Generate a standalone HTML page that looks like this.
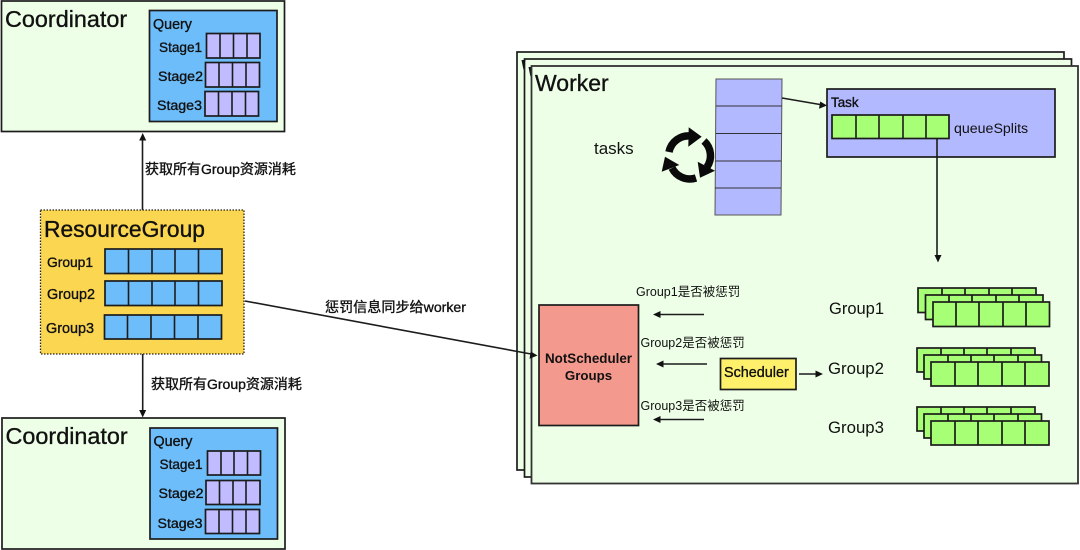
<!DOCTYPE html>
<html><head><meta charset="utf-8"><style>
html,body{margin:0;padding:0;background:#fff;width:1080px;height:550px;overflow:hidden}
svg{display:block;filter:blur(.3px)}
text{font-family:"Liberation Sans","Noto Sans CJK SC",sans-serif;fill:#111}
.b{stroke:#1c1c1c;stroke-width:1.7}
.l{stroke:#1c1c1c;stroke-width:1.6;fill:none}
.m{stroke:#111;stroke-width:.35}
</style></head><body>
<svg width="1080" height="550" viewBox="0 0 1080 550" xmlns="http://www.w3.org/2000/svg">
<!-- top coordinator -->
<rect x="1.5" y="1" width="283" height="130.5" fill="#eeffe8" class="b"/>
<rect x="149.5" y="10.5" width="127.5" height="111" fill="#6dbdfa" class="b"/>
<rect x="206.5" y="33.5" width="53.5" height="24.5" fill="#c0bcff" class="b"/>
<path d="M220 33.5V58M233.5 33.5V58M247 33.5V58" class="l"/>
<rect x="205.5" y="62.5" width="54" height="24.5" fill="#c0bcff" class="b"/>
<path d="M219 62.5V87M232.5 62.5V87M246 62.5V87" class="l"/>
<rect x="205" y="91.5" width="53.5" height="24.5" fill="#c0bcff" class="b"/>
<path d="M218.5 91.5V116M232 91.5V116M245.5 91.5V116" class="l"/>
<text x="5" y="27" font-size="23.4" class="m">Coordinator</text>
<text x="153" y="29" font-size="14.3" class="m">Query</text>
<text x="159" y="52" font-size="13.6" class="m">Stage1</text>
<text x="158" y="81" font-size="14.2" class="m">Stage2</text>
<text x="157" y="110" font-size="14.2" class="m">Stage3</text>
<!-- arrows up/down -->
<path d="M142.5 210V138" class="l"/><path d="M142.7 133l-3.500 7.500h7z" fill="#111"/>
<text x="145" y="174" font-size="14" class="m">获取所有Group资源消耗</text>
<path d="M142.7 354V412" class="l"/><path d="M142.7 417.500l-3.500-7.500h7z" fill="#111"/>
<text x="151" y="389" font-size="14" class="m">获取所有Group资源消耗</text>
<!-- resource group -->
<rect x="40.5" y="210" width="203.500" height="144" fill="#fbd651" stroke="#222" stroke-width="1.300" stroke-dasharray="1.500 1.500"/>
<text x="44" y="237" font-size="22.800" class="m">ResourceGroup</text>
<text x="47" y="267" font-size="13.800" class="m">Group1</text>
<text x="47" y="299" font-size="14.400" class="m">Group2</text>
<text x="46" y="333" font-size="14.400" class="m">Group3</text>
<rect x="105" y="249" width="117" height="24.500" fill="#6dbdfa" class="b"/>
<path d="M128.500 249V273.500M152 249V273.500M175 249V273.500M198.500 249V273.500" class="l"/>
<rect x="105" y="281" width="117" height="24.500" fill="#6dbdfa" class="b"/>
<path d="M128.500 281V305.500M152 281V305.500M175 281V305.500M198.500 281V305.500" class="l"/>
<rect x="104.500" y="315" width="117" height="24" fill="#6dbdfa" class="b"/>
<path d="M127.500 315V339M151 315V339M174.500 315V339M198 315V339" class="l"/>
<!-- bottom coordinator -->
<rect x="2" y="418" width="283" height="131" fill="#eeffe8" class="b"/>
<rect x="150" y="428" width="127.500" height="111" fill="#6dbdfa" class="b"/>
<rect x="207.500" y="451" width="53" height="24" fill="#c0bcff" class="b"/>
<path d="M221 451V475M234 451V475M247.500 451V475" class="l"/>
<rect x="206" y="480.500" width="54" height="24" fill="#c0bcff" class="b"/>
<path d="M219.500 480.500V504.500M233 480.500V504.500M246 480.500V504.500" class="l"/>
<rect x="205.500" y="509.500" width="54" height="24" fill="#c0bcff" class="b"/>
<path d="M219 509.500V533.500M232.500 509.500V533.500M246 509.500V533.500" class="l"/>
<text x="5.500" y="444" font-size="23.400" class="m">Coordinator</text>
<text x="153.500" y="446" font-size="14.300" class="m">Query</text>
<text x="159.500" y="469" font-size="13.600" class="m">Stage1</text>
<text x="158.500" y="498" font-size="14.200" class="m">Stage2</text>
<text x="157.500" y="528" font-size="14.200" class="m">Stage3</text>
<!-- workers -->
<rect x="517" y="52" width="547" height="418" fill="#eeffe8" class="b"/>
<rect x="524.500" y="59" width="547" height="418" fill="#eeffe8" class="b"/>
<path d="M521.500 60l4 0-2 10zM528.500 67l4 0-2 10z" fill="#111"/>
<rect x="531.500" y="66" width="546.500" height="417.500" fill="#eeffe8" stroke="#333" stroke-width="1.800"/>
<text x="535" y="91" font-size="23" class="m">Worker</text>
<text x="594" y="154" font-size="17">tasks</text>
<!-- recycle icon -->
<g fill="none" stroke="#0a0a0a" stroke-width="7.500">
<path d="M669 152A20 20 0 0 1 691 136"/>
<path d="M704 141A20 20 0 0 1 707 167"/>
<path d="M696 178A20 20 0 0 1 672 168"/>
</g>
<path d="M688.700 127.300L701.700 136.700L688.300 146.700ZM697.700 161.700L715 170.700L700 177.700ZM665 156.700L679.300 165L661.700 171.700Z" fill="#0a0a0a"/>
<!-- tasks stack -->
<path d="M716 79H782L781 215H715Z" fill="#b3b9ff" stroke="#555" stroke-width="1"/>
<path d="M716 106H782M716 133.500H781.500M715.500 161H781M715 188H781" stroke="#333" stroke-width="1.100" fill="none"/>
<path d="M782 98L820 104.500" class="l"/><path d="M827 105.500l-8 3.200 1.200-7.200z" fill="#111"/>
<!-- task -->
<rect x="827" y="89" width="228" height="68" fill="#b3b9ff" class="b"/>
<text x="831" y="107" font-size="13.400" class="m">Task</text>
<rect x="832" y="115" width="117" height="23.500" fill="#a7ff75" class="b"/>
<path d="M856 115V138.500M879 115V138.500M903 115V138.500M926 115V138.500" class="l"/>
<text x="954" y="133" font-size="14.200">queueSplits</text>
<path d="M937 138V257" class="l"/><path d="M938 262.500l-3.500-7.500h7z" fill="#111"/>
<!-- link -->
<path d="M245 301L531 354" class="l"/><path d="M537.500 355.500l-8 3.200 1.200-7.200z" fill="#111"/>
<text x="325" y="312" font-size="14.100" class="m">惩罚信息同步给worker</text>
<!-- not scheduler -->
<rect x="539" y="305" width="99.500" height="120.500" fill="#f4998d" class="b"/>
<text x="588.500" y="363" font-size="13.400" text-anchor="middle" font-weight="bold">NotScheduler</text>
<text x="588.500" y="380" font-size="13.300" text-anchor="middle" font-weight="bold">Groups</text>
<!-- scheduler -->
<rect x="720.500" y="358.500" width="75.500" height="31" fill="#fef06b" class="b"/>
<text x="724" y="377" font-size="14.400" class="m">Scheduler</text>
<path d="M799 374H816" class="l"/><path d="M823 374l-7.500-3.500v7z" fill="#111"/>
<!-- small arrows -->
<path d="M704 314.500H659M707 364H662M704 419.500H659" class="l"/>
<path d="M653 314.500l7.500-3.500v7zM656 364l7.500-3.500v7zM653 419.500l7.500-3.500v7z" fill="#111"/>
<text x="636" y="296" font-size="12.500">Group1是否被惩罚</text>
<text x="640.500" y="347" font-size="12.500">Group2是否被惩罚</text>
<text x="640.500" y="410" font-size="12.500">Group3是否被惩罚</text>
<text x="829" y="314" font-size="16.500">Group1</text>
<text x="828" y="374" font-size="16.800">Group2</text>
<text x="828" y="433" font-size="16.800">Group3</text>
<!-- stacks -->
<g fill="#a7ff75" class="b">
<rect x="918" y="288" width="118" height="24.500"/>
<path d="M942 288V312M965 288V312M989 288V312M1012 288V312" fill="none"/>
<rect x="925.500" y="295" width="117.500" height="24.500"/>
<path d="M949 295V319M972 295V319M996 295V319M1019 295V319" fill="none"/>
<rect x="933" y="302" width="116.500" height="24.500"/>
<path d="M956 302V326.500M979 302V326.500M1003 302V326.500M1026 302V326.500" fill="none"/>
<rect x="917" y="348" width="118" height="24"/>
<path d="M941 348V372M964 348V372M987 348V372M1011 348V372" fill="none"/>
<rect x="924" y="355" width="117.500" height="24"/>
<path d="M948 355V379M971 355V379M994 355V379M1018 355V379" fill="none"/>
<rect x="931" y="362" width="118" height="24"/>
<path d="M955 362V386M978 362V386M1002 362V386M1025 362V386" fill="none"/>
<rect x="917" y="407" width="118" height="24"/>
<path d="M941 407V431M964 407V431M987 407V431M1011 407V431" fill="none"/>
<rect x="924" y="414" width="117.500" height="24"/>
<path d="M948 414V438M971 414V438M994 414V438M1018 414V438" fill="none"/>
<rect x="931" y="421" width="118" height="24"/>
<path d="M955 421V445M978 421V445M1002 421V445M1025 421V445" fill="none"/>
</g>
</svg>
</body></html>
